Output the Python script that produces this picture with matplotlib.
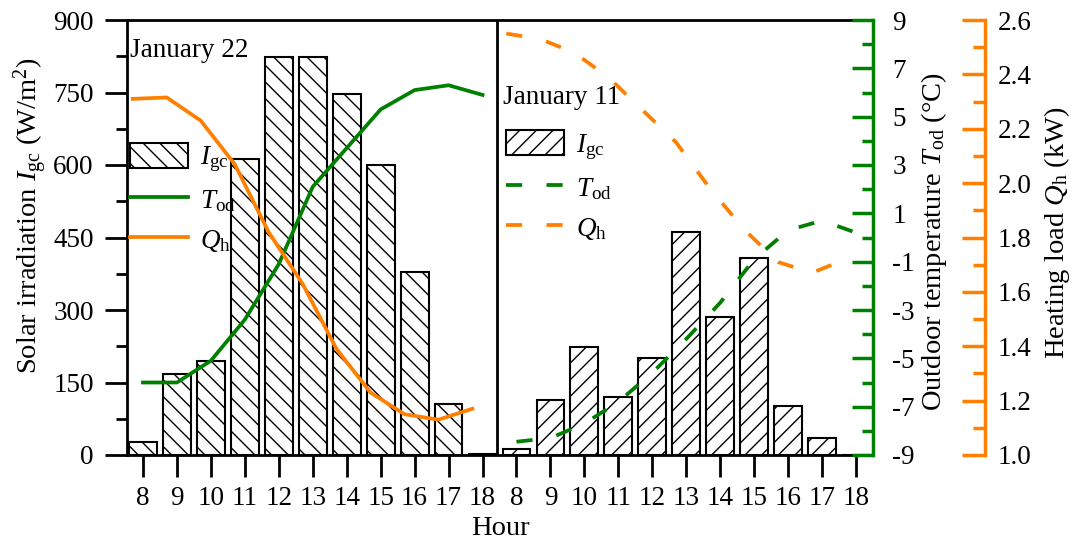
import matplotlib
matplotlib.use('Agg')
import matplotlib.pyplot as plt
from matplotlib.patches import Patch
from matplotlib.lines import Line2D

plt.rcParams.update({
    'font.family': 'serif',
    'font.serif': ['Liberation Serif', 'DejaVu Serif'],
    'mathtext.fontset': 'custom',
    'mathtext.rm': 'Liberation Serif',
    'mathtext.it': 'Liberation Serif:italic',
    'font.size': 19.5,
    'axes.unicode_minus': False,
    'hatch.linewidth': 1.0,
})

GREEN = '#008000'
ORANGE = '#FF8000'

# Data
hours = list(range(8, 19))
irr_jan22 = [27, 168, 195, 612, 824, 823, 746, 599, 378, 105, 2]
tod_jan22 = [-6.0, -6.0, -5.1, -3.4, -1.1, 2.1, 3.7, 5.3, 6.1, 6.3, 5.9]
qh_jan22 = [2.31, 2.315, 2.23, 2.07, 1.82, 1.63, 1.39, 1.23, 1.15, 1.13, 1.17]

irr_jan11 = [13, 113, 223, 121, 201, 461, 286, 407, 102, 35, 0]
tod_jan11 = [-8.45, -8.3, -7.7, -6.8, -5.6, -4.2, -2.7, -0.9, 0.3, 0.7, 0.2]
qh_jan11 = [2.55, 2.53, 2.48, 2.39, 2.27, 2.15, 1.98, 1.83, 1.71, 1.67, 1.72]

# positions: left panel 0..10, right panel 11..21
n = len(hours)
pos_l = list(range(n))
pos_r = [p + n for p in pos_l]
q_shift = -0.3  # the heating-load curves sit slightly left of the hour ticks

FS = 19.5
FS_LABEL = 20.5

fig = plt.figure(figsize=(10.8, 5.5), dpi=100)
ax = fig.add_axes([127 / 1080, 1 - 455 / 550, 746 / 1080, 435 / 550])
ax_t = ax.twinx()
ax_q = ax.twinx()

# bars
ax.bar(pos_l, irr_jan22, width=0.82, facecolor='white', edgecolor='black',
       linewidth=1.5, hatch='\\\\', zorder=2)
ax.bar(pos_r, irr_jan11, width=0.82, facecolor='white', edgecolor='black',
       linewidth=1.5, hatch='//', zorder=2)
ax.axvline(10.43, color='black', linewidth=2)

ax.set_xlim(-0.47, 21.5)
ax.set_ylim(0, 900)
ax.set_xticks(pos_l + pos_r)
ax.set_xticklabels([str(h) for h in hours] * 2)
ax.set_yticks(range(0, 901, 150))
ax.set_yticks(range(75, 900, 150), minor=True)
ax.tick_params(axis='both', which='major', direction='out', length=16, width=2, labelsize=FS)
ax.tick_params(axis='x', which='major', pad=6)
ax.tick_params(axis='y', which='major', pad=8)
ax.tick_params(axis='y', which='minor', direction='out', length=8, width=2)
ax.set_xlabel('Hour', fontsize=FS_LABEL, labelpad=4)
ax.set_ylabel(r'Solar irradiation $I_{\rm gc}$ (W/m$^2$)', fontsize=FS_LABEL)
ax.yaxis.set_label_coords(-0.103, 0.55)
for s in ['left', 'bottom', 'top']:
    ax.spines[s].set_linewidth(2)
ax.spines['right'].set_visible(False)

# outdoor temperature
dash = (0, (4.3, 6.5))
ax_t.plot(pos_l, tod_jan22, color=GREEN, linewidth=2.7, zorder=3)
ax_t.plot(pos_r, tod_jan11, color=GREEN, linewidth=2.7, linestyle=dash, zorder=3)
ax_t.set_ylim(-9, 9)
ax_t.set_yticks(range(-9, 10, 2))
ax_t.set_yticks(range(-8, 9, 2), minor=True)
ax_t.tick_params(axis='y', which='major', direction='in', length=15, width=2.5,
                 color=GREEN, pad=14, labelsize=FS)
ax_t.tick_params(axis='y', which='minor', direction='in', length=8, width=2.5, color=GREEN)
for s in ['left', 'top', 'bottom']:
    ax_t.spines[s].set_visible(False)
ax_t.spines['right'].set_color(GREEN)
ax_t.spines['right'].set_linewidth(2.5)
ax_t.set_ylabel(r'Outdoor temperature $T_{\rm od}$ (°C)', fontsize=FS_LABEL)
ax_t.yaxis.set_label_coords(1.061, 0.49)

# heating load
ax_q.plot([p + q_shift for p in pos_l], qh_jan22, color=ORANGE, linewidth=2.7, zorder=3)
ax_q.plot([p + q_shift for p in pos_r], qh_jan11, color=ORANGE, linewidth=2.7,
          linestyle=dash, zorder=3)
ax_q.set_ylim(1.0, 2.6)
ax_q.set_yticks([1.0 + 0.2 * i for i in range(9)])
ax_q.set_yticks([1.1 + 0.2 * i for i in range(8)], minor=True)
ax_q.set_yticklabels([f'{1.0 + 0.2 * i:.1f}' for i in range(9)])
ax_q.tick_params(axis='y', which='major', direction='in', length=16.5, width=2.5,
                 color=ORANGE, pad=9, labelsize=FS)
ax_q.tick_params(axis='y', which='minor', direction='in', length=8.5, width=2.5, color=ORANGE)
for s in ['left', 'top', 'bottom']:
    ax_q.spines[s].set_visible(False)
ax_q.spines['right'].set_position(('axes', 1.150))
ax_q.spines['right'].set_color(ORANGE)
ax_q.spines['right'].set_linewidth(2.5)
ax_q.set_ylabel(r'Heating load $Q_{\rm h}$ (kW)', fontsize=FS_LABEL)
ax_q.yaxis.set_label_coords(1.2260, 0.51)

# panel titles and legends
ax.text(0.004, 0.931, 'January 22', transform=ax.transAxes, fontsize=FS,
        ha='left', va='center')
ax.text(0.504, 0.821, 'January 11', transform=ax.transAxes, fontsize=FS,
        ha='left', va='center')

lbl = [r'$I_{\rm gc}$', r'$T_{\rm od}$', r'$Q_{\rm h}$']
h_left = [Patch(facecolor='white', edgecolor='black', linewidth=1.5, hatch='\\\\'),
          Line2D([], [], color=GREEN, linewidth=2.7),
          Line2D([], [], color=ORANGE, linewidth=2.7)]
h_right = [Patch(facecolor='white', edgecolor='black', linewidth=1.5, hatch='//'),
           Line2D([], [], color=GREEN, linewidth=2.7, linestyle=dash),
           Line2D([], [], color=ORANGE, linewidth=2.7, linestyle=dash)]
leg_kw = dict(loc='upper left', frameon=False, fontsize=FS, handlelength=2.15,
              handleheight=1.05, handletextpad=0.45, labelspacing=0.45,
              borderpad=0, borderaxespad=0)
leg1 = ax_q.legend(h_left, lbl, bbox_to_anchor=(0.004, 0.718), **leg_kw)
ax_q.add_artist(leg1)
ax_q.legend(h_right, lbl, bbox_to_anchor=(0.508, 0.747), **leg_kw)

fig.savefig('out.png', dpi=100)
